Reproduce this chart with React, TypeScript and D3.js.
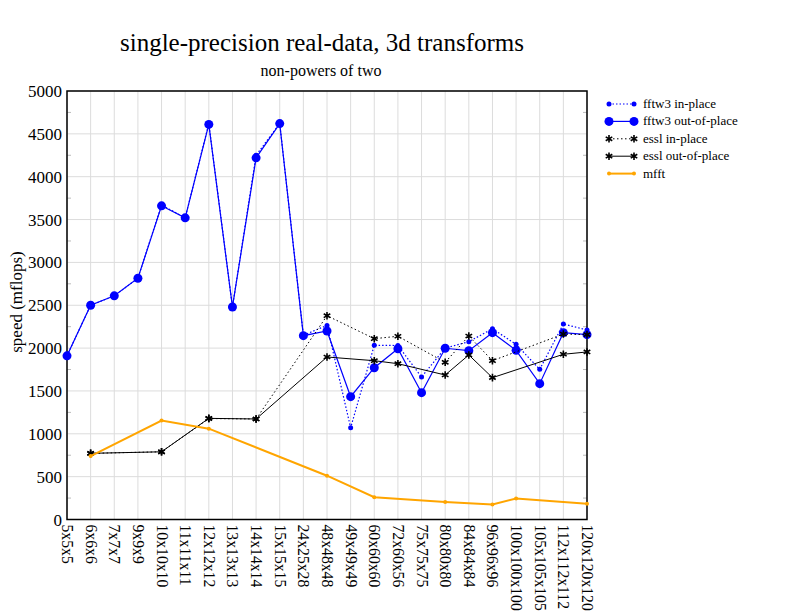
import React, { useEffect, useRef } from "react"
import * as d3 from "d3"

const sizes = [
  "5x5x5", "6x6x6", "7x7x7", "9x9x9", "10x10x10", "11x11x11", "12x12x12",
  "13x13x13", "14x14x14", "15x15x15", "24x25x28", "48x48x48", "49x49x49",
  "60x60x60", "72x60x56", "75x75x75", "80x80x80", "84x84x84", "96x96x96",
  "100x100x100", "105x105x105", "112x112x112", "120x120x120"
]

// null = not measured, the line skips to the next point
const fftw3In = [1910, 2500, 2610, 2815, 3670, 3520, 4620, 2480, 4250, 4620, 2150, 2265, 1071, 2033, 2030, 1663, 2000, 2075, 2225, 2044, 1752, 2281, 2211]
const fftw3Out = [1910, 2500, 2610, 2815, 3660, 3520, 4610, 2480, 4220, 4620, 2145, 2200, 1433, 1771, 1993, 1480, 1998, 1970, 2180, 1974, 1585, 2180, 2157]
const esslIn = [null, 772, null, null, 790, null, 1178, null, 1173, null, null, 2378, null, 2110, 2138, null, 1834, 2141, 1853, null, null, 2164, 2157]
const esslOut = [null, 772, null, null, 790, null, 1180, null, 1173, null, null, 1896, null, 1853, 1818, null, 1686, 1920, 1655, null, null, 1928, 1955]
const mfft = [null, 740, null, null, 1155, null, 1060, null, null, null, null, 511, null, 260, null, null, 205, null, 175, 245, null, null, 185]

const yTicks = [0, 500, 1000, 1500, 2000, 2500, 3000, 3500, 4000, 4500, 5000]

const font = "'Liberation Serif', 'Times New Roman', serif"

function App() {
  const ref = useRef(null)

  useEffect(() => {
    const svg = d3.select(ref.current)
    svg.selectAll("*").remove()

    const left = 67, right = 587, top = 91, bottom = 519.5

    const x = d3.scalePoint().domain(sizes).range([left, right])
    const y = d3.scaleLinear().domain([0, 5000]).range([bottom, top])

    // grid
    const grid = svg.append("g").attr("stroke", "#dcdcdc").attr("stroke-width", 1)
    sizes.forEach(s => {
      grid.append("line").attr("x1", x(s)).attr("x2", x(s)).attr("y1", top).attr("y2", bottom)
    })
    yTicks.forEach(t => {
      grid.append("line").attr("x1", left).attr("x2", right).attr("y1", y(t)).attr("y2", y(t))
    })

    // minor ticks on y
    const minor = d3.range(250, 5000, 500)
    const mt = svg.append("g").attr("stroke", "#bbb").attr("stroke-width", 1)
    minor.forEach(t => {
      mt.append("line").attr("x1", left).attr("x2", left + 4).attr("y1", y(t)).attr("y2", y(t))
      mt.append("line").attr("x1", right - 4).attr("x2", right).attr("y1", y(t)).attr("y2", y(t))
    })

    // frame
    svg.append("rect")
      .attr("x", left).attr("y", top)
      .attr("width", right - left).attr("height", bottom - top)
      .attr("fill", "none").attr("stroke", "black").attr("stroke-width", 1.5)

    // y tick labels
    svg.append("g").selectAll("text").data(yTicks).enter().append("text")
      .attr("x", left - 5).attr("y", d => y(d) + 6)
      .attr("text-anchor", "end")
      .attr("font-family", font).attr("font-size", 17)
      .text(d => d)

    // x tick labels, rotated
    svg.append("g").selectAll("text").data(sizes).enter().append("text")
      .attr("transform", d => `translate(${x(d) - 5},${bottom + 5}) rotate(90)`)
      .attr("font-family", font).attr("font-size", 15.7)
      .text(d => d)

    // titles
    svg.append("text").attr("x", 322).attr("y", 51).attr("text-anchor", "middle")
      .attr("font-family", font).attr("font-size", 25)
      .text("single-precision real-data, 3d transforms")
    svg.append("text").attr("x", 321).attr("y", 76).attr("text-anchor", "middle")
      .attr("font-family", font).attr("font-size", 16)
      .text("non-powers of two")
    svg.append("text")
      .attr("transform", "translate(22,302) rotate(-90)")
      .attr("text-anchor", "middle")
      .attr("font-family", font).attr("font-size", 17)
      .text("speed (mflops)")

    const series = [
      { name: "fftw3 in-place", values: fftw3In, color: "#0000ff", width: 1.2, dash: "1.5,2", marker: "dot", r: 2.5 },
      { name: "fftw3 out-of-place", values: fftw3Out, color: "#0000ff", width: 1.2, dash: null, marker: "dot", r: 4.5 },
      { name: "essl in-place", values: esslIn, color: "black", width: 1, dash: "1.5,2.5", marker: "star", r: 3.5 },
      { name: "essl out-of-place", values: esslOut, color: "black", width: 1, dash: null, marker: "star", r: 3.5 },
      { name: "mfft", values: mfft, color: "#ffa500", width: 2, dash: null, marker: "dot", r: 2 }
    ]

    const line = d3.line().x(d => d[0]).y(d => d[1])

    const drawMarker = (g, cx, cy, s) => {
      if (s.marker === "dot") {
        g.append("circle").attr("cx", cx).attr("cy", cy).attr("r", s.r).attr("fill", s.color)
      } else {
        const p = d3.symbol().type(d3.symbolAsterisk).size(40)()
        g.append("path").attr("d", p).attr("transform", `translate(${cx},${cy})`)
          .attr("stroke", s.color).attr("stroke-width", 1.6).attr("fill", "none")
      }
    }

    series.forEach(s => {
      const pts = sizes
        .map((c, i) => [c, s.values[i]])
        .filter(d => d[1] != null)
        .map(d => [x(d[0]), y(d[1])])
      const g = svg.append("g")
      g.append("path").attr("d", line(pts))
        .attr("fill", "none").attr("stroke", s.color).attr("stroke-width", s.width)
        .attr("stroke-dasharray", s.dash)
      pts.forEach(p => drawMarker(g, p[0], p[1], s))
    })

    // legend
    const lg = svg.append("g")
    series.forEach((s, i) => {
      const ly = 104 + i * 17.4
      lg.append("line").attr("x1", 609).attr("x2", 634).attr("y1", ly).attr("y2", ly)
        .attr("stroke", s.color).attr("stroke-width", s.width).attr("stroke-dasharray", s.dash)
      drawMarker(lg, 609, ly, s)
      drawMarker(lg, 634, ly, s)
      lg.append("text").attr("x", 643).attr("y", ly + 4)
        .attr("font-family", font).attr("font-size", 13)
        .text(s.name)
    })
  }, [])

  return (
    <svg ref={ref} width={792} height={612}
      style={{ position: "absolute", left: 0, top: 0, background: "white" }} />
  )
}

export default App
